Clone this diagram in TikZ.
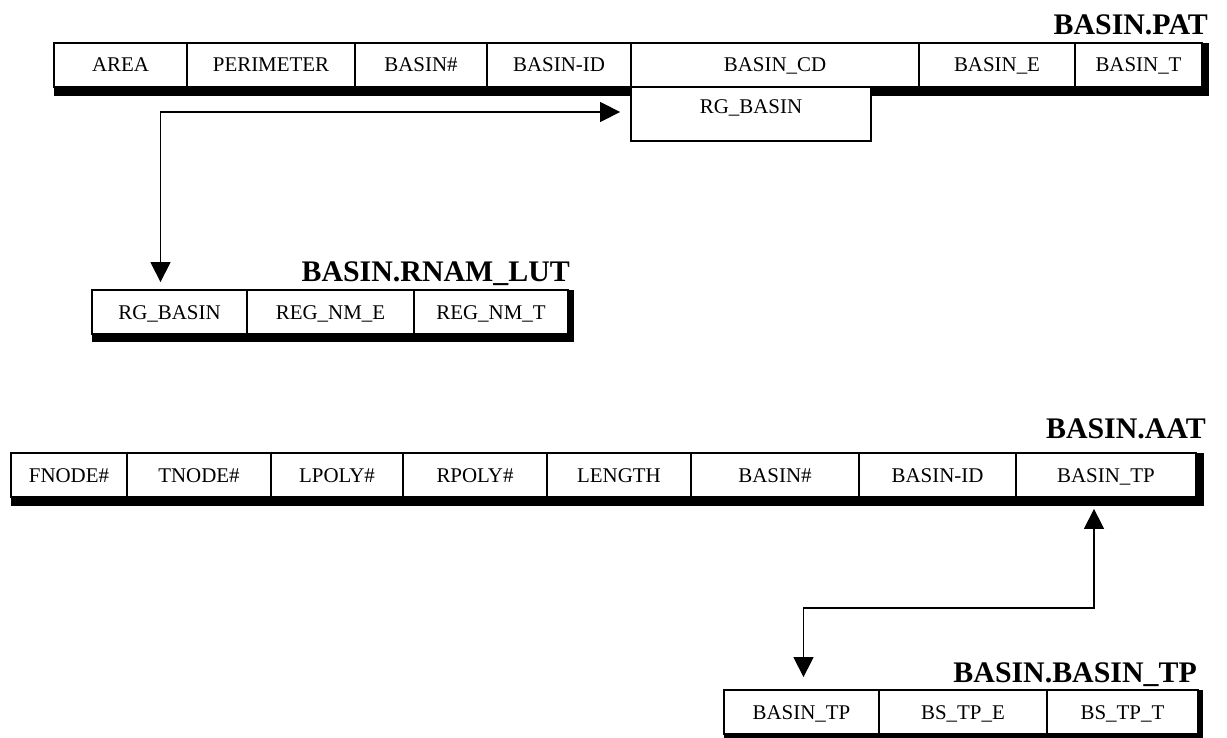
\documentclass[tikz,border=0pt]{standalone}
\usepackage{fontspec}
\setmainfont{Liberation Serif}
\usetikzlibrary{arrows.meta}
\tikzset{
  cell/.style={draw, line width=1.8bp, fill=white, inner sep=0pt,
    minimum height=44bp, font=\fontsize{21}{25}\selectfont,
    text height=14bp, text depth=0pt},
  shadowbar/.style={fill=black},
  tabletitle/.style={font=\bfseries\fontsize{30}{36}\selectfont, inner sep=0pt, anchor=base east},
  conn/.style={line width=1.4bp,
    {Triangle[length=20bp,width=20bp]}-{Triangle[length=20bp,width=20bp]}}
}
\newcommand\mkcell[5]{%
  \pgfmathsetmacro\cw{#3-#2}\pgfmathsetmacro\cx{(#2+#3)/2}%
  \node[cell, minimum width=\cw bp] (#1) at (\cx,#4) {#5};}
\begin{document}
\begin{tikzpicture}[x=1bp,y=-1bp]
\useasboundingbox (0,0) rectangle (1227,738);
% ---------- BASIN.PAT ----------
\fill[shadowbar] (54,43) rectangle (1209,96);
\mkcell{p1}{54}{187}{65}{AREA}
\mkcell{p2}{187}{355}{65}{PERIMETER}
\mkcell{p3}{355}{487}{65}{BASIN\#}
\mkcell{p4}{487}{631}{65}{BASIN-ID}
\mkcell{p5}{631}{919}{65}{BASIN\_CD}
\mkcell{p6}{919}{1075}{65}{BASIN\_E}
\mkcell{p7}{1075}{1202}{65}{BASIN\_T}
\node[cell, minimum width=240bp, minimum height=54bp, text height=14bp, text depth=14bp] (rg) at (751,114) {RG\_BASIN};
\node[tabletitle] (tpat) at (1208,35) {BASIN.PAT};
% ---------- BASIN.RNAM_LUT ----------
\fill[shadowbar] (92,290) rectangle (574,342);
\mkcell{r1}{92}{247}{312}{RG\_BASIN}
\mkcell{r2}{247}{414}{312}{REG\_NM\_E}
\mkcell{r3}{414}{568}{312}{REG\_NM\_T}
\node[tabletitle] (trnam) at (570,281) {BASIN.RNAM\_LUT};
% ---------- BASIN.AAT ----------
\fill[shadowbar] (11,453) rectangle (1204,506);
\mkcell{a1}{11}{127}{475}{FNODE\#}
\mkcell{a2}{127}{271}{475}{TNODE\#}
\mkcell{a3}{271}{403}{475}{LPOLY\#}
\mkcell{a4}{403}{547}{475}{RPOLY\#}
\mkcell{a5}{547}{691}{475}{LENGTH}
\mkcell{a6}{691}{859}{475}{BASIN\#}
\mkcell{a7}{859}{1016}{475}{BASIN-ID}
\mkcell{a8}{1016}{1196}{475}{BASIN\_TP}
\node[tabletitle] (taat) at (1206,438) {BASIN.AAT};
% ---------- BASIN.BASIN_TP ----------
\fill[shadowbar] (724,690) rectangle (1203,742);
\mkcell{b1}{724}{879}{712}{BASIN\_TP}
\mkcell{b2}{879}{1047}{712}{BS\_TP\_E}
\mkcell{b3}{1047}{1198}{712}{BS\_TP\_T}
\node[tabletitle] (tbtp) at (1197,682) {BASIN.BASIN\_TP};
% ---------- connectors ----------
\draw[conn] ([shift={(-9bp,7bp)}]r1.north) |- ([shift={(-10bp,2bp)}]rg.west);
\draw[conn] ([shift={(-12bp,-11bp)}]a8.south) -- ++(0,-99bp) -| ([shift={(2bp,12bp)}]b1.north);
\end{tikzpicture}
\end{document}
